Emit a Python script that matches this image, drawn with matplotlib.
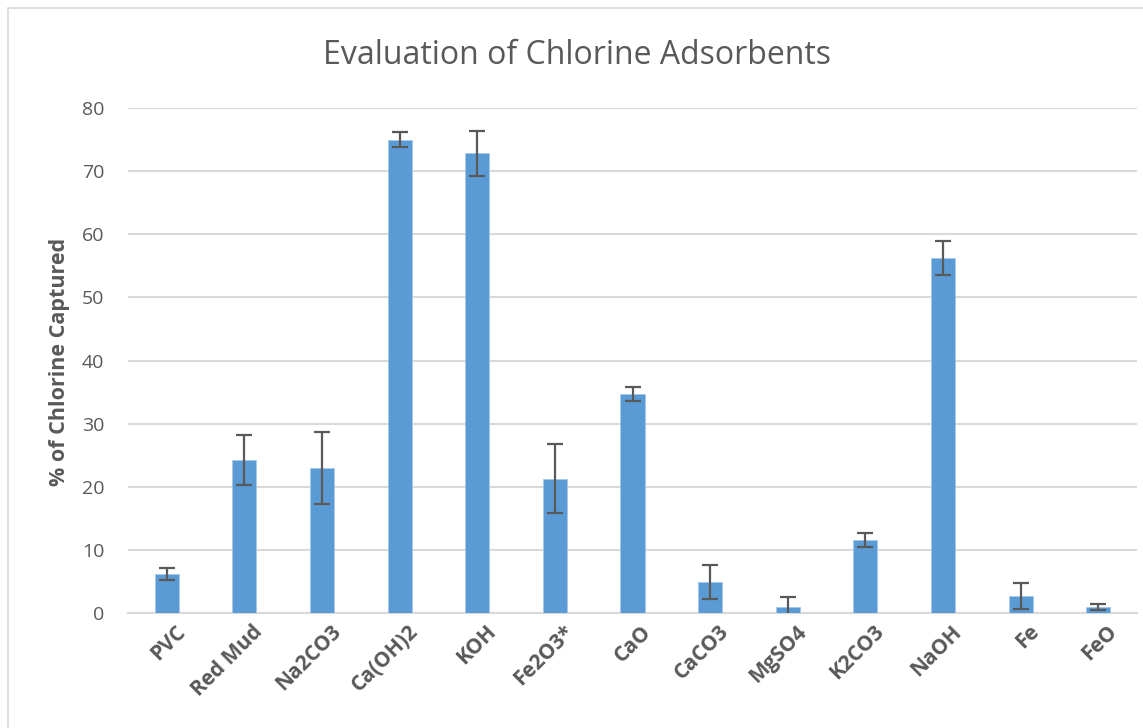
import matplotlib
matplotlib.use("Agg")
import matplotlib.pyplot as plt
from matplotlib.patches import Rectangle
from matplotlib.transforms import ScaledTranslation

categories = ["PVC", "Red Mud", "Na2CO3", "Ca(OH)2", "KOH", "Fe2O3*", "CaO",
              "CaCO3", "MgSO4", "K2CO3", "NaOH", "Fe", "FeO"]
captured = [6.1, 24.2, 23.0, 75.0, 72.8, 21.3, 34.7, 4.9, 0.9, 11.5, 56.2, 2.7, 1.0]
errors = [0.95, 4.0, 5.7, 1.2, 3.6, 5.45, 1.1, 2.7, 1.6, 1.1, 2.7, 2.1, 0.45]
y_ticks = [0, 10, 20, 30, 40, 50, 60, 70, 80]

BAR_COLOR = "#5b9bd5"
GRID_COLOR = "#d9d9d9"
TEXT_COLOR = "#595959"

plt.rcParams["font.family"] = ["Open Sans", "DejaVu Sans"]

fig = plt.figure(figsize=(11.43, 7.28), dpi=100)
ax = fig.add_axes([128 / 1143, 1 - 613 / 728, (1137 - 128) / 1143, (613 - 108) / 728])

x = range(len(categories))
ax.bar(x, captured, width=0.31, color=BAR_COLOR, edgecolor="#a9c8ea", linewidth=0.6, zorder=3)
ax.errorbar(x, captured, yerr=errors, fmt="none", ecolor="#595959", elinewidth=1.6,
            capsize=6, capthick=1.6, zorder=4)

ax.set_xlim(-0.5, len(categories) - 0.5)
ax.set_ylim(0, 80)
ax.set_yticks(y_ticks)
ax.yaxis.grid(True, color=GRID_COLOR, linewidth=1.5, zorder=0)
ax.set_axisbelow(True)
for side in ["top", "right", "left"]:
    ax.spines[side].set_visible(False)
ax.spines["bottom"].set_color(GRID_COLOR)
ax.spines["bottom"].set_linewidth(1.5)
ax.tick_params(axis="both", length=0, colors=TEXT_COLOR, labelsize=14)
ax.tick_params(axis="y", pad=17)
ax.set_xticks(list(x))
ax.set_xticklabels(categories, rotation=45, ha="right", rotation_mode="anchor",
                   fontweight="bold", fontsize=15)
ax.tick_params(axis="x", pad=6)
shift = ScaledTranslation(8 / 100, 0, fig.dpi_scale_trans)
for label in ax.get_xticklabels():
    label.set_transform(label.get_transform() + shift)

fig.text(60 / 1143, 1 - 362 / 728, "% of Chlorine Captured", rotation=90, ha="center", va="center",
         fontsize=15.5, fontweight="bold", color=TEXT_COLOR)
fig.text(577 / 1143, 1 - 55 / 728, "Evaluation of Chlorine Adsorbents", ha="center", va="center",
         fontsize=23, color=TEXT_COLOR)

fig.patches.append(Rectangle((8 / 1143, -0.1), 1.2, 1 - 8 / 728 + 0.1, transform=fig.transFigure,
                             fill=False, edgecolor=GRID_COLOR, linewidth=1.2))

fig.savefig("out.png", dpi=100)
